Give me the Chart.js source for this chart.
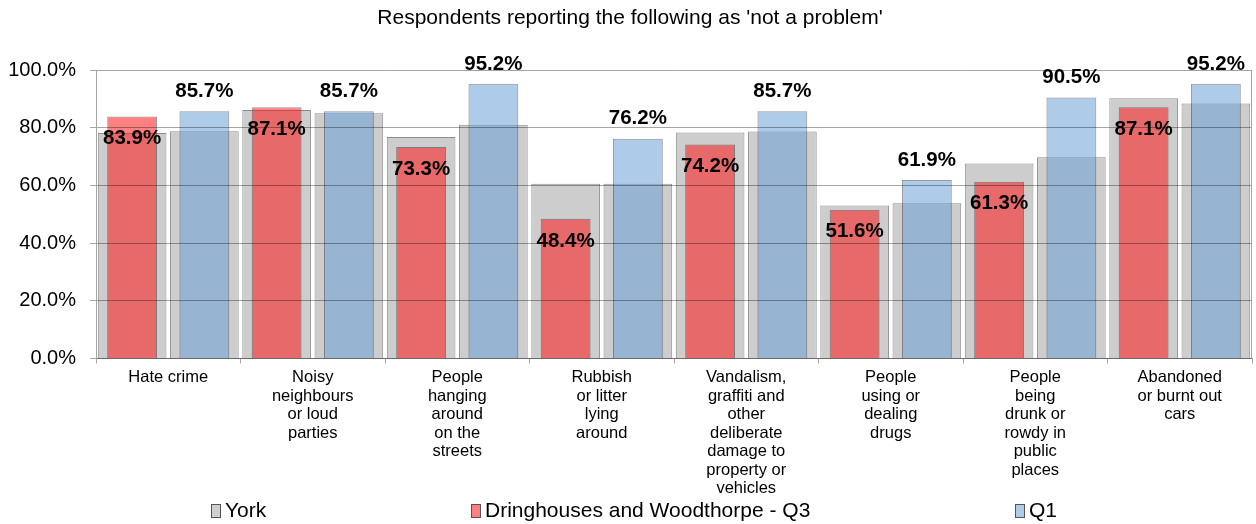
<!DOCTYPE html>
<html>
<head>
<meta charset="utf-8">
<script src="https://cdn.jsdelivr.net/npm/chart.js@4.4.1/dist/chart.umd.min.js"></script>
<style>
  body { margin: 0; background: #fff; }
  #wrap { position: relative; width: 1256px; height: 524px; }
  .leg { position: absolute; top: 499px; font: 21px "Liberation Sans", Arial, sans-serif; color: #000; white-space: nowrap; line-height: 22px; }
  .leg i { display: inline-block; width: 8px; height: 12px; border: 1px solid #555; margin-right: 4px; vertical-align: -1px; }
</style>
</head>
<body>
<div id="wrap">
  <canvas id="bar-chart" width="1256" height="524"></canvas>
  <div class="leg" style="left:211px"><i style="background:#cfcfcf"></i>York</div>
  <div class="leg" style="left:471px"><i style="background:#ff8080"></i>Dringhouses and Woodthorpe - Q3</div>
  <div class="leg" style="left:1015px"><i style="background:#aecbea"></i>Q1</div>
</div>
<script>
let categories = [
  "Hate crime",
  ["Noisy", "neighbours", "or loud", "parties"],
  ["People", "hanging", "around", "on the", "streets"],
  ["Rubbish", "or litter", "lying", "around"],
  ["Vandalism,", "graffiti and", "other", "deliberate", "damage to", "property or", "vehicles"],
  ["People", "using or", "dealing", "drugs"],
  ["People", "being", "drunk or", "rowdy in", "public", "places"],
  ["Abandoned", "or burnt out", "cars"]
]
let yorkQ3 = [78.2, 86.1, 76.8, 60.6, 78.3, 53.0, 67.6, 90.2]
let yorkQ1 = [78.8, 85.0, 81.0, 60.6, 78.7, 53.8, 69.8, 88.4]
let areaQ3 = [83.9, 87.1, 73.3, 48.4, 74.2, 51.6, 61.3, 87.1]
let areaQ1 = [85.7, 85.7, 95.2, 76.2, 85.7, 61.9, 90.5, 95.2]
let yTicks = [0, 20, 40, 60, 80, 100]

const FONT = '"Liberation Sans", Arial, sans-serif'

// values printed on the coloured bars
const barLabels = {
  id: 'barLabels',
  afterDatasetsDraw(chart) {
    const ctx = chart.ctx
    ctx.save()
    ctx.font = 'bold 20.5px ' + FONT
    ctx.fillStyle = '#000'
    ctx.textAlign = 'center'
    ctx.textBaseline = 'middle'
    chart.data.datasets.forEach((ds, i) => {
      if (ds.labelShift === undefined) return
      chart.getDatasetMeta(i).data.forEach((bar, j) => {
        ctx.fillText(ds.data[j].toFixed(1) + '%', bar.x, bar.y + ds.labelShift)
      })
    })
    ctx.restore()
  }
}

// right edge of the plot area
const frame = {
  id: 'frame',
  afterDraw(chart) {
    const a = chart.chartArea, ctx = chart.ctx
    ctx.save()
    ctx.strokeStyle = '#a6a6a6'
    ctx.lineWidth = 1
    ctx.beginPath()
    ctx.moveTo(Math.round(a.right) - 0.5, a.top)
    ctx.lineTo(Math.round(a.right) - 0.5, a.bottom)
    ctx.stroke()
    ctx.restore()
  }
}

const gray = {
  backgroundColor: "#cdcdcd",
  borderColor: "rgba(0,0,0,0.45)",
  borderWidth: 1,
  barPercentage: 0.95,
  categoryPercentage: 1,
  order: 2
}

new Chart(document.getElementById("bar-chart"), {
  type: 'bar',
  data: {
    labels: categories,
    datasets: [
      Object.assign({ label: "York", data: yorkQ3, stack: 'q3' }, gray),
      Object.assign({ label: "York", data: yorkQ1, stack: 'q1' }, gray),
      {
        label: "Dringhouses and Woodthorpe - Q3",
        data: areaQ3,
        stack: 'q3',
        order: 1,
        backgroundColor: "rgba(255,24,24,0.55)",
        borderColor: "rgba(0,0,0,0.4)",
        borderWidth: 1,
        barPercentage: 0.69,
        categoryPercentage: 1,
        labelShift: 22
      }, {
        label: "Q1",
        data: areaQ1,
        stack: 'q1',
        order: 1,
        backgroundColor: "rgba(108,160,217,0.55)",
        borderColor: "rgba(0,0,0,0.4)",
        borderWidth: 1,
        barPercentage: 0.69,
        categoryPercentage: 1,
        labelShift: -20
      }
    ]
  },
  options: {
    responsive: false,
    animation: false,
    layout: { padding: { left: 8, right: 4, top: 0, bottom: 21 } },
    plugins: {
      legend: { display: false },
      tooltip: { enabled: false },
      title: {
        display: true,
        text: "Respondents reporting the following as 'not a problem'",
        color: '#000',
        font: { family: FONT, size: 21, weight: 'normal', lineHeight: 1.2 },
        padding: { top: 6, bottom: 38.8 }
      }
    },
    scales: {
      x: {
        offset: true,
        grid: { drawOnChartArea: false, tickLength: 5, color: '#a6a6a6' },
        border: { color: '#a6a6a6' },
        ticks: {
          color: '#000',
          autoSkip: false,
          maxRotation: 0,
          padding: 5,
          font: { family: FONT, size: 16.5, lineHeight: 1.1212 }
        }
      },
      y: {
        stacked: false,
        min: 0,
        max: 100,
        afterBuildTicks: axis => { axis.ticks = yTicks.map(v => ({ value: v })) },
        afterFit: axis => { axis.width = 88 },
        grid: { z: 1, color: 'rgba(0,0,0,0.35)', tickColor: '#a6a6a6', tickLength: 6 },
        border: { z: 1, color: '#a6a6a6' },
        ticks: {
          color: '#000',
          padding: 14,
          font: { family: FONT, size: 20 },
          callback: v => v.toFixed(1) + '%'
        }
      }
    }
  },
  plugins: [barLabels, frame]
});
</script>
</body>
</html>
